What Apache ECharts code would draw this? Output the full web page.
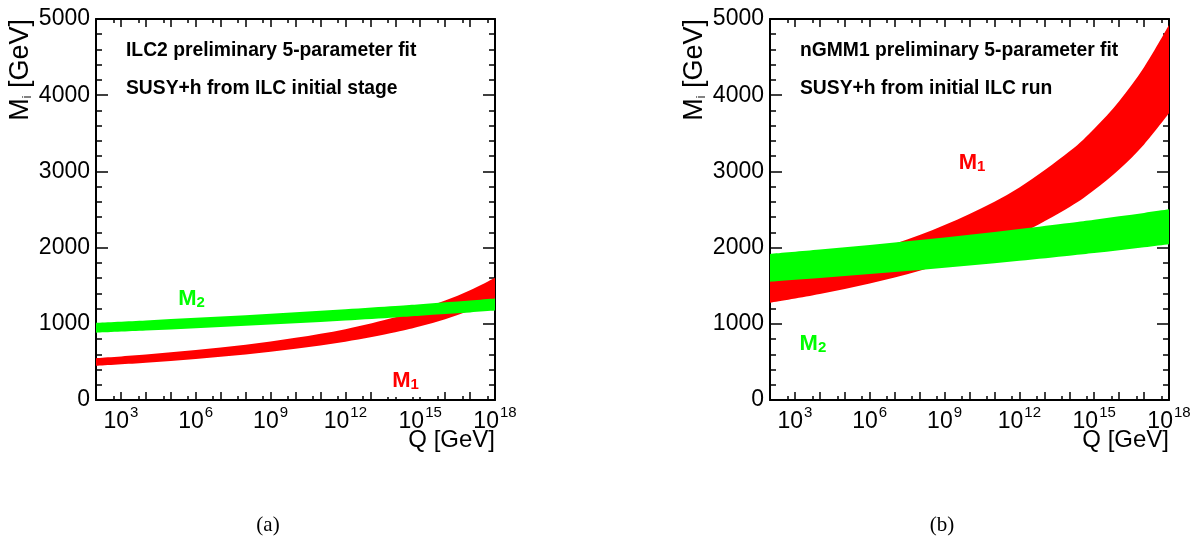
<!DOCTYPE html>
<html>
<head>
<meta charset="utf-8">
<script src="https://cdn.jsdelivr.net/npm/echarts@6/dist/echarts.min.js"></script>
<style>
html,body{margin:0;padding:0;background:#fff;}
#c{width:1195px;height:538px;}
</style>
</head>
<body>
<div id="c"></div>
<script>
// x values: log10(Q / GeV)
const logQ = [2, 4, 6, 8, 10, 12, 14, 15, 16, 17, 18];
const xTickLabels = [3, 6, 9, 12, 15, 18];

// Panel (a): ILC2  (band lower / upper edges, GeV)
const aM1Lo = [450, 490, 539, 597, 671, 764, 888, 967, 1061, 1175, 1315];
const aM1Hi = [547, 596, 655, 726, 816, 929, 1085, 1190, 1305, 1440, 1605];
const aM2Lo = [883, 911, 941, 973, 1008, 1044, 1084, 1105, 1127, 1149, 1173];
const aM2Hi = [1013, 1044, 1078, 1113, 1151, 1192, 1235, 1258, 1282, 1307, 1333];

// Panel (b): nGMM1
const bM1Lo = [1277, 1392, 1530, 1697, 1907, 2175, 2531, 2756, 3025, 3353, 3762];
const bM1Hi = [1620, 1768, 1946, 2165, 2440, 2790, 3260, 3561, 3922, 4366, 4921];
const bM2Lo = [1553, 1601, 1652, 1706, 1765, 1827, 1894, 1929, 1966, 2003, 2043];
const bM2Hi = [1916, 1974, 2035, 2100, 2170, 2245, 2324, 2366, 2410, 2455, 2502];

// Band labels: [log10 Q, M, subscript]
const aLabels = [[14.39, 223, '1'], [5.83, 1325, '2']];
const bLabels = [[10.1, 3110, '1'], [3.72, 735, '2']];

const panelTitles = [
  ['ILC2 preliminary 5-parameter fit', 'SUSY+h from ILC initial stage'],
  ['nGMM1 preliminary 5-parameter fit', 'SUSY+h from initial ILC run']
];
const captions = ['(a)', '(b)'];

const RED = '#ff0000', GREEN = '#00ff00';
const FONT = 'Liberation Sans, Arial, Helvetica, sans-serif';

const minorPos = [];
for (let n = 2; n < 18; n++) minorPos.push(n + Math.log10(5));

function xAxes(grid) {
  const base = {gridIndex: grid, type: 'value', min: 2, max: 18, interval: 1,
    splitLine: {show: false}};
  return [
    Object.assign({}, base, {position: 'bottom',
      axisLine: {show: true, lineStyle: {color: '#000', width: 2}},
      axisTick: {show: true, inside: true, length: 8, lineStyle: {color: '#000', width: 1.5}},
      axisLabel: {show: true, margin: 5, color: '#000',
        formatter: v => xTickLabels.indexOf(v) >= 0 ? '{b|10}{s|' + v + '}' : '',
        rich: {b: {fontSize: 23, fontFamily: FONT, color: '#000', lineHeight: 28, verticalAlign: 'bottom'},
               s: {fontSize: 15, fontFamily: FONT, color: '#000', lineHeight: 28, verticalAlign: 'top', padding: [0,0,0,1]}}}}),
    Object.assign({}, base, {position: 'bottom',
      axisLine: {show: false},
      axisTick: {show: true, inside: true, length: 4, customValues: minorPos, lineStyle: {color: '#000', width: 1.5}},
      axisLabel: {show: false}}),
    Object.assign({}, base, {position: 'top',
      axisLine: {show: true, lineStyle: {color: '#000', width: 2}},
      axisTick: {show: true, inside: true, length: 8, lineStyle: {color: '#000', width: 1.5}},
      axisLabel: {show: false}}),
    Object.assign({}, base, {position: 'top',
      axisLine: {show: false},
      axisTick: {show: true, inside: true, length: 4, customValues: minorPos, lineStyle: {color: '#000', width: 1.5}},
      axisLabel: {show: false}})
  ];
}

function yAxes(grid) {
  const base = {gridIndex: grid, type: 'value', min: 0, max: 5000, interval: 1000,
    splitLine: {show: false},
    axisLine: {show: true, lineStyle: {color: '#000', width: 2}},
    axisTick: {show: true, inside: true, length: 12, lineStyle: {color: '#000', width: 1.5}},
    minorTick: {show: true, splitNumber: 5, length: 6, lineStyle: {color: '#000', width: 1.5}}};
  return [
    Object.assign({}, base, {position: 'left',
      axisLabel: {show: true, margin: 6, color: '#000', fontSize: 23, fontFamily: FONT, formatter: v => String(v)}}),
    Object.assign({}, base, {position: 'right', axisLabel: {show: false}})
  ];
}

// Catmull-Rom spline through pixel points -> SVG path segment commands
function splineCmds(pts, start) {
  let d = (start ? 'M' : 'L') + pts[0][0] + ',' + pts[0][1];
  for (let i = 0; i < pts.length - 1; i++) {
    const p0 = pts[i - 1] || pts[i], p1 = pts[i], p2 = pts[i + 1], p3 = pts[i + 2] || pts[i + 1];
    const c1 = [p1[0] + (p2[0] - p0[0]) / 6, p1[1] + (p2[1] - p0[1]) / 6];
    const c2 = [p2[0] - (p3[0] - p1[0]) / 6, p2[1] - (p3[1] - p1[1]) / 6];
    d += ' C' + c1[0] + ',' + c1[1] + ' ' + c2[0] + ',' + c2[1] + ' ' + p2[0] + ',' + p2[1];
  }
  return d;
}

function band(name, lo, hi, color, xi, yi) {
  const data = logQ.map((x, i) => [x, lo[i], hi[i]]);
  return {
    name: name, type: 'custom', xAxisIndex: xi, yAxisIndex: yi, silent: true,
    encode: {x: 0, y: [1, 2]},
    data: data,
    renderItem: function (params, api) {
      if (params.dataIndex !== 0) return null;
      const up = data.map(d => api.coord([d[0], d[2]]));
      const dn = data.map(d => api.coord([d[0], d[1]])).reverse();
      const path = splineCmds(up, true) + ' ' + splineCmds(dn, false) + ' Z';
      const cs = params.coordSys;
      return {
        type: 'group',
        children: [{type: 'path', shape: {pathData: path}, style: {fill: color, stroke: null}}],
        clipPath: {type: 'rect', shape: {x: cs.x, y: cs.y, width: cs.width, height: cs.height}}
      };
    }
  };
}

function labels(name, items, xi, yi, boxFirst) {
  return {
    name: name, type: 'custom', xAxisIndex: xi, yAxisIndex: yi, silent: true, z: 5,
    encode: {x: 0, y: 1},
    data: items,
    renderItem: function (params, api) {
      const it = items[params.dataIndex];
      const p = api.coord([it[0], it[1]]);
      const color = it[2] === '1' ? RED : GREEN;
      const st = {
        text: '{m|M}{s|' + it[2] + '}', align: 'center', verticalAlign: 'middle',
        rich: {m: {fontSize: 22, fontWeight: 'bold', fontFamily: FONT, fill: color, lineHeight: 22, verticalAlign: 'top', padding: [0, 0, 6, 0]},
               s: {fontSize: 15, fontWeight: 'bold', fontFamily: FONT, fill: color, lineHeight: 15, verticalAlign: 'bottom'}}
      };
      if (boxFirst && params.dataIndex === 0) {
        st.backgroundColor = '#fff';
        st.padding = [1, 13, 5, 14];
      }
      return {type: 'text', x: p[0], y: p[1], style: st};
    }
  };
}

const series = [
  band('M1 (a)', aM1Lo, aM1Hi, RED, 0, 0),
  band('M2 (a)', aM2Lo, aM2Hi, GREEN, 0, 0),
  labels('labels (a)', aLabels, 0, 0, true),
  band('M1 (b)', bM1Lo, bM1Hi, RED, 4, 2),
  band('M2 (b)', bM2Lo, bM2Hi, GREEN, 4, 2),
  labels('labels (b)', bLabels, 4, 2, false)
];

const graphics = [];
const panels = [{left: 96, right: 495}, {left: 770, right: 1169}];
panels.forEach((p, k) => {
  graphics.push({type: 'text', x: p.left + 30, y: 50.5, z: 10,
    style: {text: panelTitles[k][0], fontSize: 19.3, fontWeight: 'bold', fontFamily: FONT, fill: '#000', align: 'left', verticalAlign: 'middle'}});
  graphics.push({type: 'text', x: p.left + 30, y: 89, z: 10,
    style: {text: panelTitles[k][1], fontSize: 19.3, fontWeight: 'bold', fontFamily: FONT, fill: '#000', align: 'left', verticalAlign: 'middle'}});
  graphics.push({type: 'text', x: p.right, y: 440, z: 10,
    style: {text: 'Q [GeV]', fontSize: 24, fontFamily: FONT, fill: '#000', align: 'right', verticalAlign: 'middle'}});
  graphics.push({type: 'text', x: p.left - 62, y: 19, rotation: Math.PI / 2, z: 10,
    style: {text: '{m|M}{s|i}{m| [GeV]}', align: 'right', verticalAlign: 'bottom',
      rich: {m: {fontSize: 27, fontFamily: FONT, fill: '#000', lineHeight: 28, verticalAlign: 'bottom'},
             s: {fontSize: 12, fontFamily: FONT, fill: '#000', lineHeight: 12, verticalAlign: 'bottom'}}}});
  graphics.push({type: 'text', x: [268, 942][k], y: 525, z: 10,
    style: {text: captions[k], fontSize: 21, fontFamily: 'Liberation Serif, DejaVu Serif, serif', fill: '#000', align: 'center', verticalAlign: 'middle'}});
});

const chart = echarts.init(document.getElementById('c'), null, {renderer: 'canvas'});
chart.setOption({
  animation: false,
  backgroundColor: '#fff',
  grid: [
    {left: 96, width: 399, top: 19, height: 381},
    {left: 770, width: 399, top: 19, height: 381}
  ],
  xAxis: [].concat(xAxes(0), xAxes(1)),
  yAxis: [].concat(yAxes(0), yAxes(1)),
  series: series,
  graphic: graphics
});
</script>
</body>
</html>
